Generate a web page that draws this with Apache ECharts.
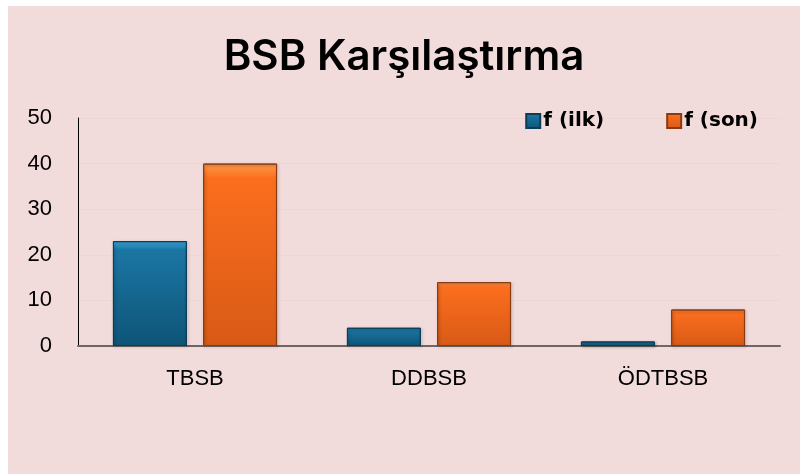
<!DOCTYPE html>
<html>
<head>
<meta charset="utf-8">
<script src="https://cdn.jsdelivr.net/npm/echarts@6/dist/echarts.min.js"></script>
<style>
  html,body{margin:0;padding:0;background:#fff;}
  #main{position:absolute;left:8px;top:6px;width:792px;height:468px;background:#f2dcdb;}
</style>
</head>
<body>
<div id="main"></div>
<script>
// veriler
var categories = ['TBSB', 'DDBSB', 'ÖDTBSB'];
var ilkValues = [23, 4, 1];
var sonValues = [40, 14, 8];
var seriesNames = ['f (ilk)', 'f (son)'];

var chart = echarts.init(document.getElementById('main'));

function grad(top, mid, bottom) {
  return new echarts.graphic.LinearGradient(0, 0, 0, 1, [
    {offset: 0, color: top},
    {offset: 0.08, color: mid},
    {offset: 1, color: bottom}
  ]);
}

chart.setOption({
  backgroundColor: '#f2dcdb',
  title: {
    text: 'BSB Karşılaştırma',
    left: 'center',
    top: 25,
    textStyle: {fontFamily: 'Inter', fontSize: 42, fontWeight: 600, color: '#000'}
  },
  legend: {
    data: seriesNames,
    right: 37,
    top: 100,
    itemWidth: 14,
    itemHeight: 14,
    itemGap: 62,
    icon: 'rect',
    textStyle: {fontFamily: 'DejaVu Sans', fontSize: 20, fontWeight: 'bold', color: '#000', padding: [0, 0, 0, -2]}
  },
  grid: {left: 70, right: 20, top: 112, bottom: 128, containLabel: false},
  xAxis: {
    type: 'category',
    data: categories,
    axisLine: {lineStyle: {color: '#6f6767', width: 2}},
    axisTick: {show: false},
    axisLabel: {fontFamily: 'Liberation Sans', fontSize: 22, color: '#000', margin: 22}
  },
  yAxis: {
    type: 'value',
    min: 0,
    max: 50,
    interval: 10,
    axisLine: {show: true, lineStyle: {color: '#000', width: 1}},
    axisTick: {show: false},
    splitLine: {lineStyle: {color: '#eed6d5', width: 1}},
    axisLabel: {fontFamily: 'Liberation Sans', fontSize: 22, color: '#000', margin: 26, align: 'right'}
  },
  series: [
    {
      name: seriesNames[0],
      type: 'bar',
      data: ilkValues,
      barWidth: '31.6%',
      barGap: '22%',
      itemStyle: {
        color: grad('#3ba9dc', '#1b76a4', '#0e5477'),
        borderColor: '#0c3d57',
        borderWidth: 1,
        shadowColor: 'rgba(0,0,0,0.3)',
        shadowBlur: 3,
        shadowOffsetX: 1,
        shadowOffsetY: 1
      }
    },
    {
      name: seriesNames[1],
      type: 'bar',
      data: sonValues,
      barWidth: '31.6%',
      itemStyle: {
        color: grad('#ff9a4a', '#fb6e1e', '#d85a16'),
        borderColor: '#8a3a10',
        borderWidth: 1,
        shadowColor: 'rgba(0,0,0,0.3)',
        shadowBlur: 3,
        shadowOffsetX: 1,
        shadowOffsetY: 1
      }
    }
  ]
});
</script>
</body>
</html>
